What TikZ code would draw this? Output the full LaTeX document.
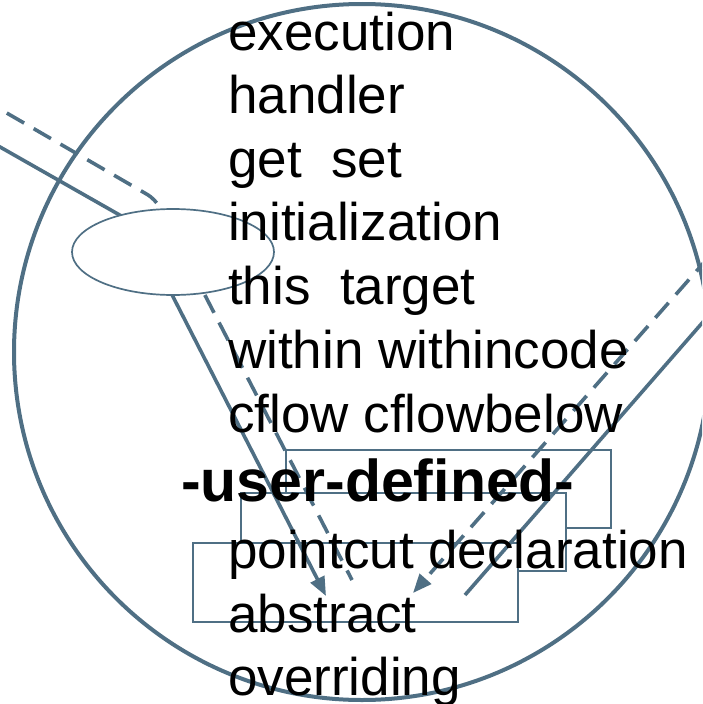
\documentclass[tikz,border=0pt]{standalone}
\usepackage{fontspec}
\setmainfont{Liberation Sans}
\usetikzlibrary{arrows.meta,shapes.geometric}
\definecolor{slate}{RGB}{79,111,132}
\tikzset{
  ring/.style={circle, draw=slate, line width=4pt, inner sep=0pt},
  box/.style={draw=slate, fill=white, line width=2.4pt, inner sep=0pt, anchor=north west,
              minimum width=325pt, minimum height=78pt},
  oval/.style={ellipse, draw=slate, fill=white, line width=1.7pt, inner sep=0pt},
  conn/.style={draw=slate, line width=3.6pt},
  dashconn/.style={conn, dash pattern=on 20pt off 11pt},
  tip/.style={-{Triangle[length=19pt,width=15pt]}},
  kw/.style={anchor=base west, inner sep=0pt, font=\fontsize{53pt}{64pt}\selectfont},
  kwbold/.style={anchor=base west, inner sep=0pt, font=\fontsize{59pt}{70pt}\selectfont\bfseries},
}
\begin{document}
\begin{tikzpicture}[x=1pt,y=-1pt]
\clip (0,0) rectangle (702,704);
% outer circle
\node[ring, minimum size=696pt] (circ) at (362,352) {};
% stacked boxes, each one covering the one behind it
\node[box] (boxA) at (285,449) {};
\node[box] (boxB) at (240,492) {};
\node[box, minimum height=79pt] (boxC) at (192,542) {};
% end points of the connectors
\coordinate (sIn)  at (-20,135.6);
\coordinate (sBend) at (136,224.3);
\coordinate (sTip) at (326,596);
\coordinate (dIn)  at (-20,97.5);
\coordinate (dBend) at (155.4,199.2);
\coordinate (dEnd) at (352,580);
\coordinate (rdIn) at (730,233);
\coordinate (rdTip) at (413,593);
\coordinate (rsIn) at (730,291);
\coordinate (rsEnd) at (465,595);
% connectors
\draw[conn, tip] (sIn) -- (sBend) -- (sTip);
\draw[dashconn, rounded corners=9pt] (dIn) -- (dBend) -- (dEnd);
\draw[dashconn, tip] (rdIn) -- (rdTip);
\draw[conn] (rsIn) -- (rsEnd);
% oval that the left connectors pass under
\node[oval, minimum width=202pt, minimum height=86pt] (hub) at (173,252) {};
% keyword list
\node[kw] (k1)  at (228,50)  {execution};
\node[kw] (k2)  at (228,113) {handler};
\node[kw] (k3)  at (228,177) {get\ \ set};
\node[kw] (k4)  at (228,240) {initialization};
\node[kw] (k5)  at (228,304) {this\ \ target};
\node[kw] (k6)  at (228,368) {within withincode};
\node[kw] (k7)  at (228,432) {cflow cflowbelow};
\node[kwbold] (k8) at (181,501) {-user-defined-};
\node[kw] (k9)  at (228,568) {pointcut declaration};
\node[kw] (k10) at (228,632) {abstract};
\node[kw] (k11) at (228,695) {overriding};
\end{tikzpicture}
\end{document}
